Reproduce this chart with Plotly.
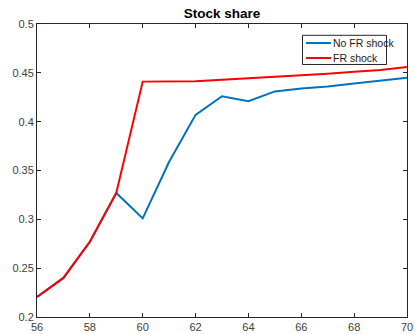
import plotly.graph_objects as go

ages = [56, 57, 58, 59, 60, 61, 62, 63, 64, 65, 66, 67, 68, 69, 70]
no_fr_shock = [0.2205, 0.240, 0.277, 0.327, 0.301, 0.359, 0.407, 0.426, 0.421, 0.431, 0.434, 0.436, 0.439, 0.442, 0.445]
fr_shock = [0.2205, 0.240, 0.277, 0.327, 0.441, 0.441, 0.4415, 0.443, 0.4445, 0.4455, 0.447, 0.449, 0.451, 0.453, 0.456]

series_names = ["No FR shock", "FR shock"]
series_colors = ["#0072BD", "#FF0000"]

x_ticks = [56, 58, 60, 62, 64, 66, 68, 70]
y_ticks = [0.2, 0.25, 0.3, 0.35, 0.4, 0.45, 0.5]
y_tick_text = ["0.2", "0.25", "0.3", "0.35", "0.4", "0.45", "0.5"]

fig = go.Figure()
for name, vals, col in zip(series_names, [no_fr_shock, fr_shock], series_colors):
    fig.add_trace(go.Scatter(x=ages, y=vals, mode="lines", name=name,
                             line=dict(color=col, width=2), showlegend=False))

axis_common = dict(showgrid=False, zeroline=False, showline=True, linecolor="#262626",
                   linewidth=1, mirror="ticks", ticks="inside", ticklen=4, automargin=False,
                   tickcolor="#262626", tickfont=dict(family="Arial", size=11, color="#404040"))

fig.update_xaxes(range=[56, 70], tickvals=x_ticks, **axis_common)
fig.update_yaxes(range=[0.2, 0.5], tickvals=y_ticks, ticktext=y_tick_text, **axis_common)

# Compact boxed legend in the upper-right corner (paper coordinates)
box_x0, box_x1, box_y0, box_y1 = 0.7176, 0.9446, 0.8618, 0.9614
sample_x0, sample_x1, label_x = 0.727, 0.7946, 0.7935
row_y = [0.9352, 0.8840]

shapes = [dict(type="rect", xref="paper", yref="paper", x0=box_x0, x1=box_x1,
               y0=box_y0, y1=box_y1, fillcolor="white",
               line=dict(color="#262626", width=1), layer="above")]
annotations = []
for name, col, yy in zip(series_names, series_colors, row_y):
    shapes.append(dict(type="line", xref="paper", yref="paper", x0=sample_x0, x1=sample_x1,
                       y0=yy, y1=yy, line=dict(color=col, width=2), layer="above"))
    annotations.append(dict(text=name, xref="paper", yref="paper", x=label_x, y=yy,
                            xanchor="left", yanchor="middle", showarrow=False,
                            font=dict(family="Arial", size=10.5, color="#1a1a1a")))

fig.update_layout(
    width=415, height=334,
    margin=dict(l=37, r=8, t=24, b=17),
    paper_bgcolor="white", plot_bgcolor="white",
    title=dict(text="<b>Stock share</b>", x=0.5, xref="paper", y=0.961, yanchor="middle",
               font=dict(family="Arial", size=13.5, color="black")),
    shapes=shapes,
    annotations=annotations,
    showlegend=False,
)

fig.write_html("out.html")
